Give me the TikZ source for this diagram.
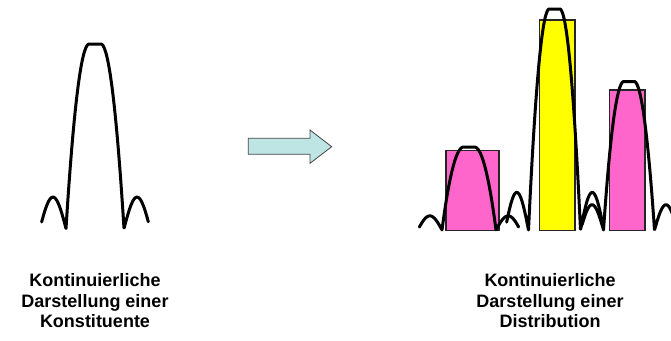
\documentclass[tikz,border=0pt]{standalone}
\usepackage{fontspec}
\setmainfont{Liberation Sans}
\definecolor{pinkfill}{RGB}{255,102,204}
\definecolor{yelfill}{RGB}{255,255,0}
\definecolor{arrowfill}{RGB}{190,228,228}
\definecolor{arrowline}{RGB}{70,70,70}
\begin{document}
\begin{tikzpicture}[x=1pt,y=-1pt,
  curve/.style={line width=3pt, line join=round, line cap=round},
  bar/.style={draw=black!85, line width=1.2pt},
  capt/.style={font=\fontsize{18}{20.5}\selectfont\bfseries, align=center, text=black, inner sep=0pt},
  sinc/.pic={\draw[curve] plot[domain=-1.84:1.84, samples=369, variable=\u]
     (\u,{(abs(\u)<0.2) ? 1 : ((abs(\u)<1) ? (1-((abs(\u)-0.2)/0.8)*((abs(\u)-0.2)/0.8)) : (0.17*sin(200*(abs(\u)-1))))});}
]
\useasboundingbox (0,0) rectangle (671,340);
\fill[white] (0,0) rectangle (671,340);
\clip (0,0) rectangle (671,340);

% left: single constituent
\pic[xscale=29, yscale=-184.5] (c0) at (95,228.5) {sinc};

% arrow
\draw[fill=arrowfill, draw=arrowline, line width=0.8pt]
  (248.3,138.3) -- (310,138.3) -- (310,130) -- (331.7,146.7) -- (310,163.3) -- (310,154.3) -- (248.3,154.3) -- cycle;

% bars
\draw[bar, fill=pinkfill] (446,150.7) rectangle (499,230.7);
\draw[bar, fill=yelfill] (539.3,20) rectangle (575,230.7);
\draw[bar, fill=pinkfill] (609.3,90) rectangle (645,230.7);

% distribution curves
\pic[xscale=27, yscale=-83] (c1) at (469,230) {sinc};
\pic[xscale=26, yscale=-221] (c2) at (554.5,230) {sinc};
\pic[xscale=25.5, yscale=-148.5] (c3) at (629,230) {sinc};

% captions
\node[capt] (lt) at (95,301) {Kontinuierliche\\Darstellung einer\\Konstituente};
\node[capt] (rt) at (550,301) {Kontinuierliche\\Darstellung einer\\Distribution};
\end{tikzpicture}
\end{document}
